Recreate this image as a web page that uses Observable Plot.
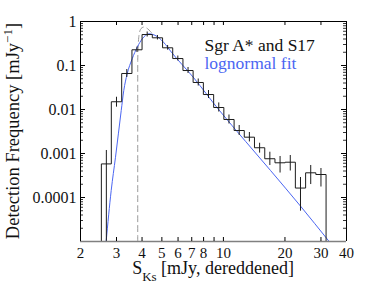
<!DOCTYPE html>
<html><head><meta charset="utf-8">
<script src="https://cdn.jsdelivr.net/npm/d3@7"></script>
<script src="https://cdn.jsdelivr.net/npm/@observablehq/plot@0.6"></script>
<style>
body{margin:0;background:#fff}
svg{font-family:"Liberation Serif",serif}
</style>
</head><body><div id="chart"></div>
<script>
// Histogram bin edges [mJy] (log-spaced) and detection frequency per bin
const binEdges = [2.53, 2.83, 3.18, 3.57, 4.0, 4.49, 5.04, 5.65, 6.34, 7.11, 7.98, 8.96, 10.05, 11.28, 12.65, 14.19, 15.93, 17.87, 20.05, 22.49, 25.24, 28.32, 31.78];
const detectionFreq = [5.8e-4, 0.0150, 0.0658, 0.2275, 0.506, 0.426, 0.2525, 0.144, 0.0769, 0.0411, 0.0219, 0.0111, 0.00593, 0.00333, 0.00235, 0.00135, 7.6e-4, 6.15e-4, 6.34e-4, 1.64e-4, 3.64e-4, 3.33e-4];
const errLow  = [1e-5, 0.0113, 0.0534, 0.197, 0.444, 0.380, 0.223, 0.1265, 0.0658, 0.0342, 0.0178, 0.00877, 0.00468, 0.00257, 0.00183, 0.00102, 5.34e-4, 3.6e-4, 4.0e-4, 4.89e-5, 1.97e-4, 1.73e-4];
const errHigh = [1.17e-3, 0.0190, 0.0811, 0.263, 0.577, 0.481, 0.285, 0.164, 0.0901, 0.0493, 0.0270, 0.0141, 0.0075, 0.00433, 0.0030, 0.00171, 0.00107, 8.55e-4, 9.0e-4, 2.85e-4, 5.34e-4, 4.56e-4];
// Lognormal fit (blue)
const fitFlux = [2.67, 2.826, 2.966, 3.164, 3.256, 3.384, 3.58, 3.79, 4.01, 4.32, 4.74, 5.21, 5.51, 7.17, 9.50, 12.83, 17.0, 23.8, 32.9];
const fitFreq = [1e-5, 1.44e-4, 8.2e-4, 0.0095, 0.027, 0.0648, 0.142, 0.261, 0.404, 0.525, 0.456, 0.300, 0.2136, 0.052, 0.00985, 0.00189, 4.11e-4, 6.41e-5, 1e-5];
// Gray dashed intrinsic curve with its cut-off
const dashedFlux = [3.81, 3.81, 3.864, 3.954, 4.09, 4.25, 4.40, 4.55];
const dashedFreq = [1e-5, 0.13, 0.48, 0.69, 0.75, 0.69, 0.59, 0.49];
// Axis ticks and legend
const xTickValues = [2, 3, 4, 5, 6, 7, 8, 9, 10, 20, 30, 40];
const xTickLabels = [2, 3, 4, 5, 6, 7, 8, 10, 20, 30, 40];
const yTickValues = [1, 0.1, 0.01, 0.001, 0.0001];
const yDecades = [1e-5, 1e-4, 1e-3, 1e-2, 1e-1];
const yMinorMultipliers = [2, 3, 4, 5, 6, 7, 8, 9];
const legendLabels = ["Sgr A* and S17", "lognormal fit"];
const xAxisLabel = ["S", "Ks", " [mJy, dereddened]"];
const yAxisLabel = ["Detection Frequency [mJy", "\u22121", "]"];

const W = 382, H = 286, mL = 80, mR = 36, mT = 21, mB = 45;
const fw = W - mL - mR, fh = H - mT - mB;
const yFloor = 1e-5, yTop = 1;
const blue = "#4b66f2";
const ink = "#1c1c1c";

const steps = [{x: binEdges[0], y: yFloor}]
  .concat(detectionFreq.map((v, i) => ({x: binEdges[i], y: v})))
  .concat([{x: binEdges[binEdges.length - 1], y: detectionFreq[detectionFreq.length - 1]},
           {x: binEdges[binEdges.length - 1], y: yFloor}]);
const bars = detectionFreq.map((v, i) => ({
  x: Math.sqrt(binEdges[i] * binEdges[i + 1]), lo: errLow[i], hi: errHigh[i]
}));
const fit = fitFlux.map((x, i) => ({x, y: fitFreq[i]}));
const dashed = dashedFlux.map((x, i) => ({x, y: dashedFreq[i]}));
const yMinor = yDecades.flatMap(d => yMinorMultipliers.map(m => m * d));

const chart = Plot.plot({
  width: W, height: H,
  marginLeft: mL, marginRight: mR, marginTop: mT, marginBottom: mB,
  style: {fontFamily: "Liberation Serif, serif", fontSize: "16px", background: "#fff"},
  x: {type: "log", domain: [2, 40], axis: null},
  y: {type: "log", domain: [yFloor, yTop], axis: null},
  marks: [
    Plot.line(dashed, {x: "x", y: "y", stroke: "#9a9a9a", strokeWidth: 1, strokeDasharray: "6,4", curve: "monotone-x"}),
    Plot.line(fit, {x: "x", y: "y", stroke: blue, strokeWidth: 1, curve: "monotone-x"}),
    Plot.line(steps, {x: "x", y: "y", stroke: ink, strokeWidth: 1, curve: "step-after"}),
    Plot.ruleX(bars, {x: "x", y1: "lo", y2: "hi", stroke: ink, strokeWidth: 1}),
    // frame
    Plot.ruleX([2, 40], {stroke: "#000", strokeWidth: 1}),
    Plot.ruleY([yTop], {stroke: "#000", strokeWidth: 1}),
    Plot.ruleY([yFloor], {stroke: "#808080", strokeWidth: 1.6}),
    // inward ticks
    Plot.ruleX(xTickValues, {stroke: "#000", insetTop: fh - 4}),
    Plot.ruleX(xTickValues, {stroke: "#000", insetBottom: fh - 4}),
    Plot.ruleY(yTickValues, {stroke: "#000", insetRight: fw - 5}),
    Plot.ruleY(yTickValues, {stroke: "#000", insetLeft: fw - 5}),
    Plot.ruleY(yMinor, {stroke: "#000", strokeWidth: 0.8, insetRight: fw - 3}),
    Plot.ruleY(yMinor, {stroke: "#000", strokeWidth: 0.8, insetLeft: fw - 3}),
    // tick labels
    Plot.text(xTickLabels, {x: d => d, frameAnchor: "bottom", dy: 6, lineAnchor: "top", text: d => String(d), fontSize: 15, fill: "#111"}),
    Plot.text(yTickValues, {y: d => d, frameAnchor: "left", dx: -4, textAnchor: "end", lineAnchor: "middle", text: d => String(d), fontSize: 16, fill: "#111"}),
    // legend
    Plot.text([legendLabels[0]], {frameAnchor: "top-left", dx: 124, dy: 24, textAnchor: "start", lineAnchor: "middle", fontSize: 17.5, fill: "#111"}),
    Plot.text([legendLabels[1]], {frameAnchor: "top-left", dx: 124, dy: 41.5, textAnchor: "start", lineAnchor: "middle", fontSize: 17.5, fill: blue})
  ]
});
document.getElementById("chart").appendChild(chart);

const svg = d3.select(chart);
// x axis label with subscript
const xl = svg.append("text")
  .attr("x", mL + fw / 2).attr("y", 273.5)
  .attr("text-anchor", "middle").attr("font-size", 18).attr("fill", "#111");
xl.append("tspan").text(xAxisLabel[0]);
xl.append("tspan").attr("dy", 7).attr("font-size", 13).text(xAxisLabel[1]);
xl.append("tspan").attr("dy", -7).text(xAxisLabel[2]);
// y axis label with superscript
const yl = svg.append("text")
  .attr("transform", `translate(19,${mT + 110}) rotate(-90)`)
  .attr("text-anchor", "middle").attr("font-size", 18.5).attr("fill", "#111");
yl.append("tspan").text(yAxisLabel[0]);
yl.append("tspan").attr("dy", -7).attr("font-size", 13).text(yAxisLabel[1]);
yl.append("tspan").attr("dy", 7).text(yAxisLabel[2]);
</script>
</body></html>
